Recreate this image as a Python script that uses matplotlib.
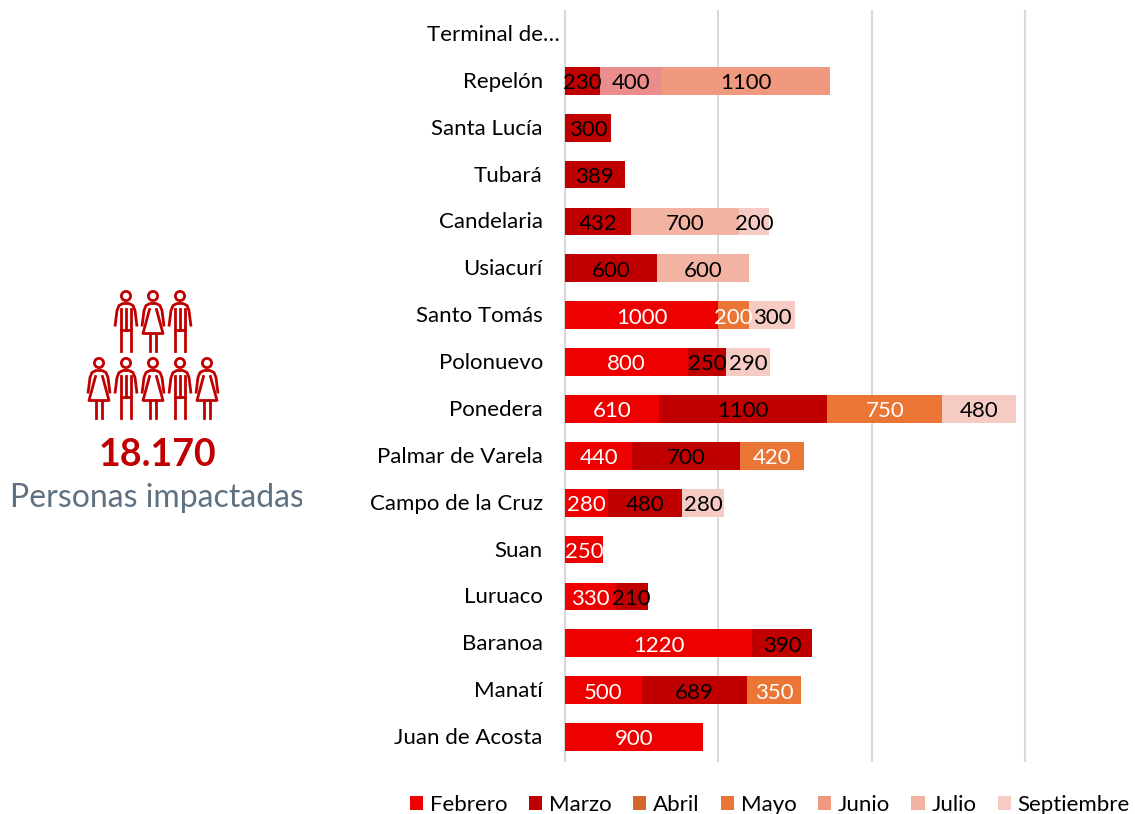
import numpy as np
import matplotlib
matplotlib.use('Agg')
import matplotlib.pyplot as plt
from matplotlib.patches import Circle
from matplotlib.transforms import Bbox, Affine2D

plt.rcParams['font.family'] = ['Lato', 'DejaVu Sans']

municipios = ['Terminal de…', 'Repelón', 'Santa Lucía', 'Tubará', 'Candelaria', 'Usiacurí',
              'Santo Tomás', 'Polonuevo', 'Ponedera', 'Palmar de Varela', 'Campo de la Cruz',
              'Suan', 'Luruaco', 'Baranoa', 'Manatí', 'Juan de Acosta']

febrero = [0, 0, 0, 0, 0, 0, 1000, 800, 610, 440, 280, 250, 330, 1220, 500, 900]
marzo = [0, 230, 300, 389, 432, 600, 0, 250, 1100, 700, 480, 0, 210, 390, 689, 0]
abril = [0, 0, 0, 0, 0, 0, 0, 0, 0, 0, 0, 0, 0, 0, 0, 0]
mayo = [0, 0, 0, 0, 0, 0, 200, 0, 750, 420, 0, 0, 0, 0, 350, 0]
sin_leyenda = [0, 400, 0, 0, 0, 0, 0, 0, 0, 0, 0, 0, 0, 0, 0, 0]
junio = [0, 1100, 0, 0, 0, 0, 0, 0, 0, 0, 0, 0, 0, 0, 0, 0]
julio = [0, 0, 0, 0, 700, 600, 0, 0, 0, 0, 0, 0, 0, 0, 0, 0]
septiembre = [0, 0, 0, 0, 200, 0, 300, 290, 480, 0, 280, 0, 0, 0, 0, 0]

series = [('Febrero', febrero, '#EE0000', 'white'),
          ('Marzo', marzo, '#C00000', 'black'),
          ('Abril', abril, '#D4672B', 'white'),
          ('Mayo', mayo, '#EB7535', 'white'),
          ('_sin_leyenda', sin_leyenda, '#EC8D8D', 'black'),
          ('Junio', junio, '#EF997F', 'black'),
          ('Julio', julio, '#F2B3A3', 'black'),
          ('Septiembre', septiembre, '#F5CBC3', 'black')]

W, H = 1135, 814
fig = plt.figure(figsize=(W / 100, H / 100), dpi=100)
ax = fig.add_axes([565 / W, 1 - 760.5 / H, 460 / W, 750 / H])

y = np.arange(len(municipios))
left = np.zeros(len(municipios))
for name, values, color, text_color in series:
    values = np.array(values)
    bars = ax.barh(y, values, left=left, height=0.59, color=color, label=name, zorder=2)
    for i, v in enumerate(values):
        if v > 0:
            ax.text(left[i] + v / 2, y[i] + 0.05, str(v), ha='center', va='center',
                    fontsize=16, color=text_color, zorder=3)
    left += values

ax.set_xlim(0, 3000)
ax.set_ylim(len(municipios) - 0.5, -0.5)
ax.set_xticks([0, 1000, 2000, 3000])
ax.set_xticklabels([])
ax.set_yticks(y)
ax.set_yticklabels(municipios, fontsize=16, color='black')
ax.tick_params(length=0, axis='both', pad=16)
ax.grid(axis='x', color='#D9D9D9', linewidth=1.5, zorder=0, clip_on=False)
ax.set_axisbelow(True)
for s in ax.spines.values():
    s.set_visible(False)

# las etiquetas van 1 px mas arriba, y la primera sobresale a la derecha
for i, lab in enumerate(ax.get_yticklabels()):
    dx = 17 if i == 0 else 0
    lab.set_transform(lab.get_transform() + Affine2D().translate(dx, 1))

fig.legend(loc='center', bbox_to_anchor=(770 / W, 1 - 805 / H), ncol=7, frameon=False,
           fontsize=16, handlelength=0.6, handleheight=0.6, handletextpad=0.3,
           columnspacing=0.96, borderpad=0, borderaxespad=0)

# iconos de personas, en pixeles de la figura
over = fig.add_axes([0, 0, 1, 1], zorder=5)
over.set_xlim(0, W)
over.set_ylim(H, 0)
over.axis('off')
rojo = '#C00000'


def persona(cx, top, mujer=False):
    lw = 2.0
    over.add_patch(Circle((cx, top + 5.5), 4.6, fill=False, ec=rojo, lw=lw))
    # hombros y brazos
    over.plot([cx - 11, cx - 9, cx - 7, cx - 3, cx + 3, cx + 7, cx + 9, cx + 11],
              [top + 36, top + 20, top + 15, top + 13, top + 13, top + 15, top + 20, top + 36],
              color=rojo, lw=lw, solid_capstyle='butt')
    if mujer:
        over.plot([cx - 3.5, cx - 10, cx + 10, cx + 3.5],
                  [top + 19, top + 43, top + 43, top + 19], color=rojo, lw=lw)
        over.plot([cx - 3.3, cx - 3.3], [top + 43, top + 60], color=rojo, lw=lw)
        over.plot([cx + 3.3, cx + 3.3], [top + 43, top + 60], color=rojo, lw=lw)
    else:
        over.plot([cx - 5, cx - 5], [top + 18, top + 60], color=rojo, lw=lw)
        over.plot([cx + 5, cx + 5], [top + 18, top + 60], color=rojo, lw=lw)
        over.plot([cx, cx], [top + 18, top + 39], color=rojo, lw=lw)
        over.plot([cx - 5, cx + 5], [top + 39, top + 39], color=rojo, lw=lw)


for cx, mujer in [(126, False), (153, True), (180, False)]:
    persona(cx, 290.5, mujer)
for cx, mujer in [(99, True), (126, False), (153, True), (180, False), (207, True)]:
    persona(cx, 357.5, mujer)

over.text(157.5, 455, '18.170', ha='center', va='center', fontsize=27, fontweight='bold', color=rojo)
t = over.text(10, 498, 'Personas impactadas', ha='left', va='center', fontsize=23, color='#5F7180',
              clip_on=True)
t.set_clip_box(Bbox([[0, 0], [302, H]]))

fig.savefig('out.png', dpi=100)
